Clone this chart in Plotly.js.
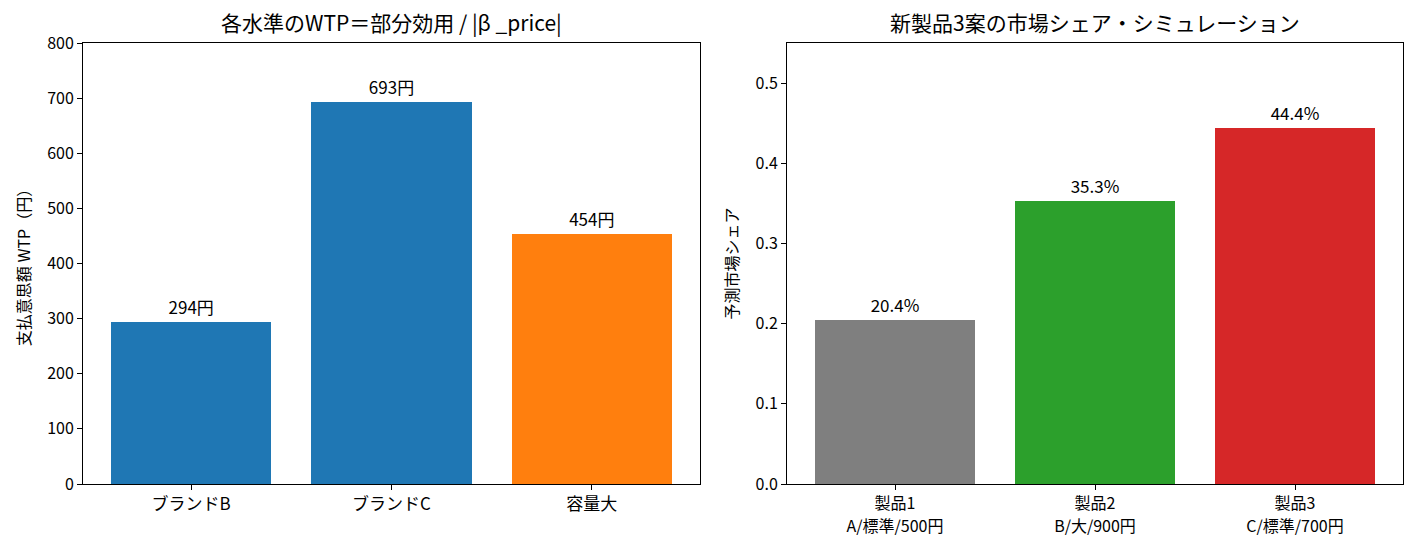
<!DOCTYPE html>
<html>
<head>
<meta charset="utf-8">
<script src="https://cdn.plot.ly/plotly-3.0.1.min.js"></script>
<style>
  body { margin: 0; background: #fff; }
  #chart { width: 1414px; height: 545px; }
</style>
</head>
<body>
<div id="chart"></div>
<script>
// WTP per level
const wtpLevels = ['ブランドB', 'ブランドC', '容量大'];
const wtpValues = [294, 693, 454];
const wtpColors = ['#1f77b4', '#1f77b4', '#ff7f0e'];

// share simulation
const productNames = ['製品1', '製品2', '製品3'];
const productSpecs = ['A/標準/500円', 'B/大/900円', 'C/標準/700円'];
const shareValues = [0.204, 0.353, 0.444];
const shareColors = ['#7f7f7f', '#2ca02c', '#d62728'];

const FONT = 'Noto Sans CJK JP, DejaVu Sans, sans-serif';
const W = 1414;
const LEFT_DOM = [83 / W, 700 / W];
const RIGHT_DOM = [787 / W, 1403 / W];
const X_RANGE = [-0.54, 2.54];

function axisStyle(size) {
  return {
    showline: true, linecolor: '#000', linewidth: 1, mirror: true,
    ticks: 'outside', ticklen: 5, tickcolor: '#000',
    showgrid: false, zeroline: false, automargin: false,
    tickfont: {size: size, color: '#000'}
  };
}

const traces = [
  {
    type: 'bar', x: [0, 1, 2], y: wtpValues,
    marker: {color: wtpColors},
    width: 0.8,
    text: wtpValues.map(v => v + '円'),
    textposition: 'outside', cliponaxis: false,
    textfont: {size: 17, color: '#000'},
    xaxis: 'x', yaxis: 'y', hoverinfo: 'skip'
  },
  {
    type: 'bar', x: [0, 1, 2], y: shareValues,
    marker: {color: shareColors},
    width: 0.8,
    text: shareValues.map(v => (v * 100).toFixed(1) + '%'),
    textposition: 'outside', cliponaxis: false,
    textfont: {size: 17, color: '#000'},
    xaxis: 'x2', yaxis: 'y2', hoverinfo: 'skip'
  },
  // empty trace so the second label row axis gets drawn
  {type: 'scatter', x: [], y: [], xaxis: 'x3', yaxis: 'y2', hoverinfo: 'skip'}
];

const layout = {
  width: 1414, height: 545,
  margin: {l: 0, r: 0, t: 43, b: 61},
  paper_bgcolor: '#fff', plot_bgcolor: '#fff',
  font: {family: FONT, color: '#000'},
  showlegend: false,
  bargap: 0,
  xaxis: Object.assign(axisStyle(17), {
    domain: LEFT_DOM, range: X_RANGE,
    tickvals: [0, 1, 2], ticktext: wtpLevels, anchor: 'y'
  }),
  yaxis: Object.assign(axisStyle(16), {
    domain: [0, 1], range: [0, 800], dtick: 100, anchor: 'x',
    title: {text: '支払意思額 WTP（円）', font: {size: 16}, standoff: 12}
  }),
  xaxis2: Object.assign(axisStyle(16), {
    domain: RIGHT_DOM, range: X_RANGE,
    tickvals: [0, 1, 2], ticktext: productNames, anchor: 'y2'
  }),
  // second row of product labels
  xaxis3: {
    domain: RIGHT_DOM, range: X_RANGE, overlaying: 'x2', anchor: 'y2', side: 'bottom',
    showline: false, ticks: '', showgrid: false, zeroline: false, automargin: false,
    tickvals: [0, 1, 2], ticktext: productSpecs, ticklabelstandoff: 31,
    tickfont: {size: 16, color: '#000'}
  },
  yaxis2: Object.assign(axisStyle(16), {
    domain: [0, 1], range: [0, 0.55], dtick: 0.1, tickformat: '.1f', anchor: 'x2',
    title: {text: '予測市場シェア', font: {size: 16}, standoff: 12}
  }),
  annotations: [
    {text: '各水準のWTP＝部分効用 / |β _price|', xref: 'paper', yref: 'paper',
     x: (83 + 700) / 2 / W, xanchor: 'center', y: 1, yshift: 4, yanchor: 'bottom',
     showarrow: false, font: {size: 21}},
    {text: '新製品3案の市場シェア・シミュレーション', xref: 'paper', yref: 'paper',
     x: (787 + 1403) / 2 / W, xanchor: 'center', y: 1, yshift: 4, yanchor: 'bottom',
     showarrow: false, font: {size: 21}}
  ]
};

Plotly.newPlot('chart', traces, layout, {displayModeBar: false, staticPlot: true});
</script>
</body>
</html>
